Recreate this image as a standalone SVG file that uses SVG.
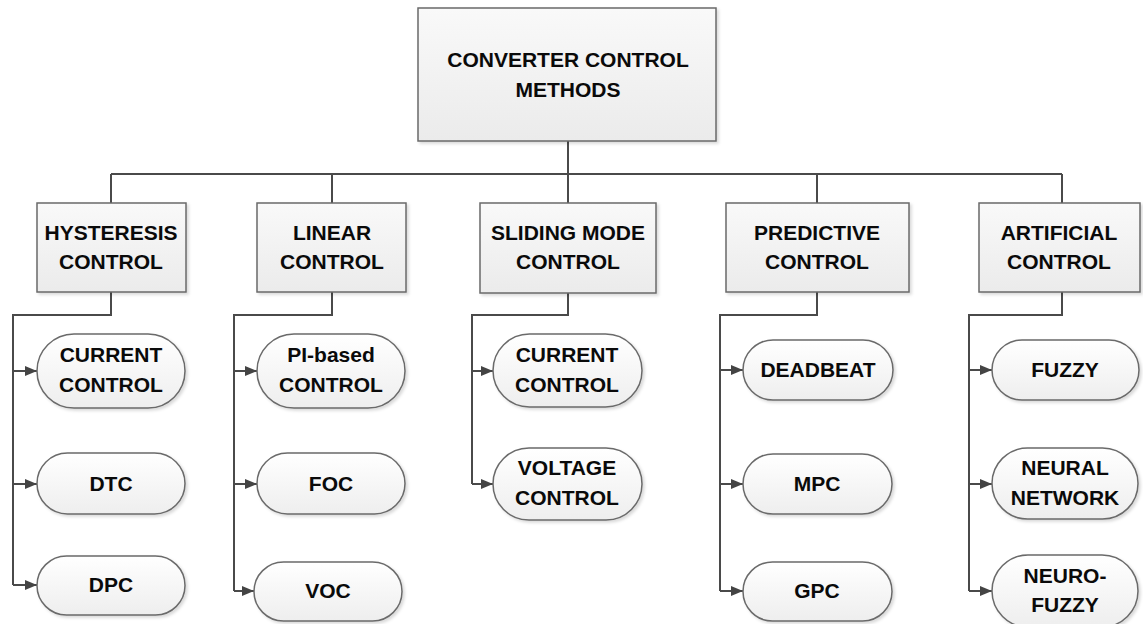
<svg xmlns="http://www.w3.org/2000/svg" width="1143" height="624" viewBox="0 0 1143 624">
  <defs>
    <linearGradient id="boxFill" x1="0" y1="0" x2="0" y2="1">
      <stop offset="0" stop-color="#f9f9f9"/>
      <stop offset="1" stop-color="#ebebeb"/>
    </linearGradient>
    <linearGradient id="pillFill" x1="0" y1="0" x2="0" y2="1">
      <stop offset="0" stop-color="#ffffff"/>
      <stop offset="1" stop-color="#eeeeee"/>
    </linearGradient>
    <filter id="shadow" x="-10%" y="-10%" width="125%" height="130%">
      <feDropShadow dx="2" dy="2" stdDeviation="1.5" flood-color="#000" flood-opacity="0.15"/>
    </filter>
    <marker id="arrow" viewBox="0 0 12 10" refX="12" refY="5" markerWidth="12" markerHeight="10" markerUnits="userSpaceOnUse" orient="auto">
      <path d="M0,0 L12,5 L0,10 z" fill="#444"/>
    </marker>
  </defs>
  <style>
    .box { fill: url(#boxFill); stroke: #6a6a6a; stroke-width: 1.5; filter: url(#shadow); }
    .pill { fill: url(#pillFill); stroke: #6a6a6a; stroke-width: 1.5; filter: url(#shadow); }
    .lbl { font-family: "Liberation Sans", Arial, sans-serif; font-weight: bold; font-size: 21px; fill: #0a0a0a; text-anchor: middle; }
    .wire { fill: none; stroke: #4a4a4a; stroke-width: 2; }
    .arr { fill: none; stroke: #4a4a4a; stroke-width: 2; marker-end: url(#arrow); }
  </style>

  <rect width="1143" height="624" fill="#ffffff"/>

  <!-- connectors -->
  <g id="connectors">
    <!-- root to bus -->
    <path class="wire" d="M568,141 V203"/>
    <path class="wire" d="M111,174 H1062"/>
    <path class="wire" d="M111,174 V203 M332,174 V203 M817,174 V203 M1062,174 V203"/>

    <!-- hysteresis branch -->
    <path class="wire" d="M111,292 V315 H13 V585"/>
    <path class="arr" d="M13,371 H37"/>
    <path class="arr" d="M13,484 H37"/>
    <path class="arr" d="M13,585 H37"/>

    <!-- linear branch -->
    <path class="wire" d="M332,292 V315 H234 V591"/>
    <path class="arr" d="M234,371 H257"/>
    <path class="arr" d="M234,484 H257"/>
    <path class="arr" d="M234,591 H254"/>

    <!-- sliding mode branch -->
    <path class="wire" d="M568,293 V315 H472 V484"/>
    <path class="arr" d="M472,371 H493"/>
    <path class="arr" d="M472,484 H493"/>

    <!-- predictive branch -->
    <path class="wire" d="M817,292 V315 H720 V591"/>
    <path class="arr" d="M720,370 H743"/>
    <path class="arr" d="M720,484 H743"/>
    <path class="arr" d="M720,591 H743"/>

    <!-- artificial branch -->
    <path class="wire" d="M1062,292 V315 H969 V591"/>
    <path class="arr" d="M969,370 H992"/>
    <path class="arr" d="M969,484 H992"/>
    <path class="arr" d="M969,591 H992"/>
  </g>

  <!-- root -->
  <g id="root">
    <rect class="box" x="418" y="8" width="298" height="133"/>
    <text class="lbl" x="568" y="67">CONVERTER CONTROL</text>
    <text class="lbl" x="568" y="97">METHODS</text>
  </g>

  <!-- method families -->
  <g id="hysteresis">
    <rect class="box" x="37" y="203" width="149" height="89"/>
    <text class="lbl" x="111" y="240">HYSTERESIS</text>
    <text class="lbl" x="111" y="269">CONTROL</text>
  </g>
  <g id="linear">
    <rect class="box" x="257" y="203" width="149" height="89"/>
    <text class="lbl" x="332" y="240">LINEAR</text>
    <text class="lbl" x="332" y="269">CONTROL</text>
  </g>
  <g id="sliding">
    <rect class="box" x="480" y="203" width="176" height="90"/>
    <text class="lbl" x="568" y="240">SLIDING MODE</text>
    <text class="lbl" x="568" y="269">CONTROL</text>
  </g>
  <g id="predictive">
    <rect class="box" x="726" y="203" width="183" height="89"/>
    <text class="lbl" x="817" y="240">PREDICTIVE</text>
    <text class="lbl" x="817" y="269">CONTROL</text>
  </g>
  <g id="artificial">
    <rect class="box" x="979" y="203" width="161" height="89"/>
    <text class="lbl" x="1059" y="240">ARTIFICIAL</text>
    <text class="lbl" x="1059" y="269">CONTROL</text>
  </g>

  <!-- hysteresis techniques -->
  <g id="hys-current">
    <rect class="pill" x="37" y="334" width="148" height="74" rx="37" ry="37"/>
    <text class="lbl" x="111" y="362">CURRENT</text>
    <text class="lbl" x="111" y="392">CONTROL</text>
  </g>
  <g id="hys-dtc">
    <rect class="pill" x="37" y="453" width="148" height="61" rx="30.5" ry="30.5"/>
    <text class="lbl" x="111" y="491">DTC</text>
  </g>
  <g id="hys-dpc">
    <rect class="pill" x="37" y="556" width="148" height="59" rx="29.5" ry="29.5"/>
    <text class="lbl" x="111" y="592">DPC</text>
  </g>

  <!-- linear techniques -->
  <g id="lin-pi">
    <rect class="pill" x="257" y="334" width="148" height="74" rx="37" ry="37"/>
    <text class="lbl" x="331" y="362">PI-based</text>
    <text class="lbl" x="331" y="392">CONTROL</text>
  </g>
  <g id="lin-foc">
    <rect class="pill" x="257" y="453" width="148" height="61" rx="30.5" ry="30.5"/>
    <text class="lbl" x="331" y="491">FOC</text>
  </g>
  <g id="lin-voc">
    <rect class="pill" x="254" y="562" width="148" height="59" rx="29.5" ry="29.5"/>
    <text class="lbl" x="328" y="598">VOC</text>
  </g>

  <!-- sliding mode techniques -->
  <g id="smc-current">
    <rect class="pill" x="493" y="334" width="149" height="73" rx="36.5" ry="36.5"/>
    <text class="lbl" x="567" y="362">CURRENT</text>
    <text class="lbl" x="567" y="392">CONTROL</text>
  </g>
  <g id="smc-voltage">
    <rect class="pill" x="493" y="448" width="149" height="72" rx="36" ry="36"/>
    <text class="lbl" x="567" y="475">VOLTAGE</text>
    <text class="lbl" x="567" y="505">CONTROL</text>
  </g>

  <!-- predictive techniques -->
  <g id="pred-deadbeat">
    <rect class="pill" x="743" y="340" width="150" height="60" rx="30" ry="30"/>
    <text class="lbl" x="818" y="377">DEADBEAT</text>
  </g>
  <g id="pred-mpc">
    <rect class="pill" x="743" y="454" width="149" height="60" rx="30" ry="30"/>
    <text class="lbl" x="817" y="491">MPC</text>
  </g>
  <g id="pred-gpc">
    <rect class="pill" x="743" y="562" width="149" height="59" rx="29.5" ry="29.5"/>
    <text class="lbl" x="817" y="598">GPC</text>
  </g>

  <!-- artificial techniques -->
  <g id="art-fuzzy">
    <rect class="pill" x="992" y="340" width="147" height="60" rx="30" ry="30"/>
    <text class="lbl" x="1065" y="377">FUZZY</text>
  </g>
  <g id="art-neural">
    <rect class="pill" x="992" y="448" width="146" height="71" rx="35.5" ry="35.5"/>
    <text class="lbl" x="1065" y="475">NEURAL</text>
    <text class="lbl" x="1065" y="505">NETWORK</text>
  </g>
  <g id="art-neurofuzzy">
    <rect class="pill" x="992" y="555" width="146" height="72" rx="36" ry="36"/>
    <text class="lbl" x="1065" y="583">NEURO-</text>
    <text class="lbl" x="1065" y="612">FUZZY</text>
  </g>
</svg>
